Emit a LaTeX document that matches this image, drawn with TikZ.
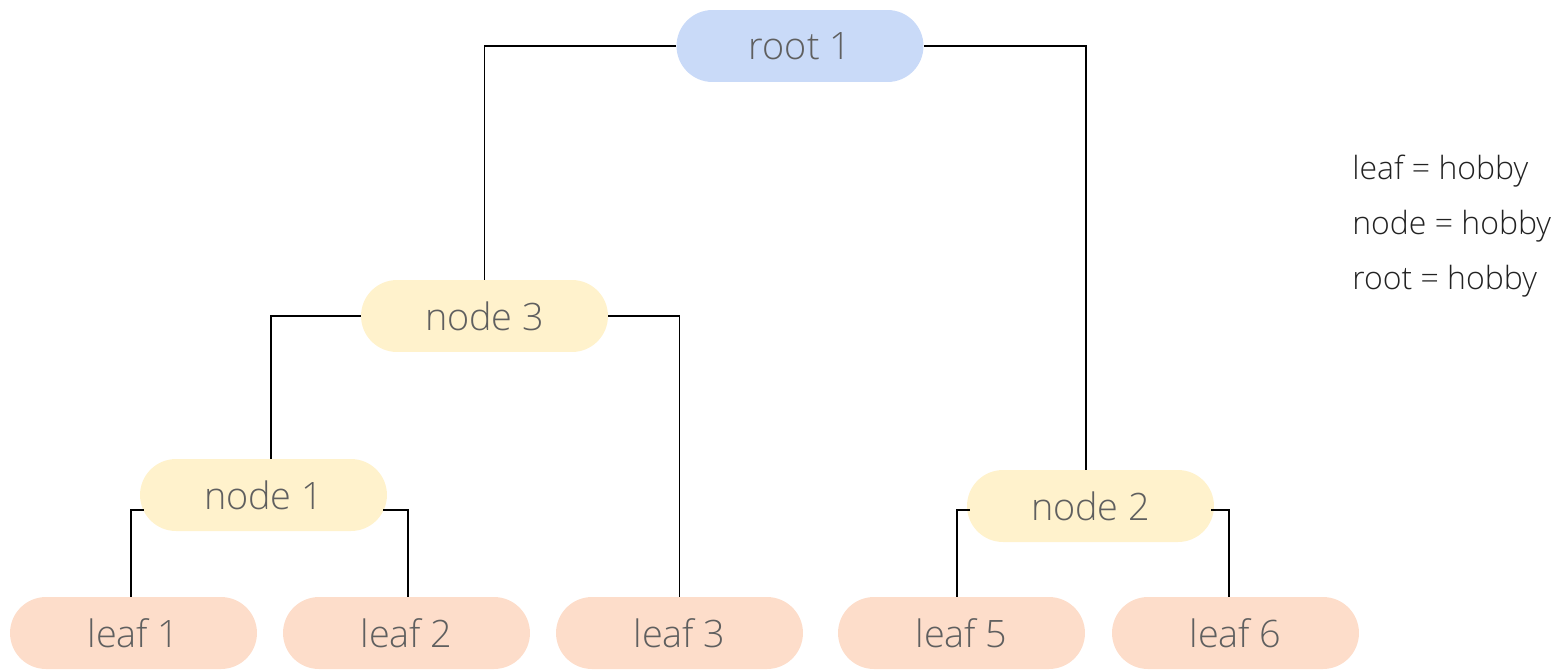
\documentclass[tikz,border=0pt]{standalone}
\usepackage{fontspec}
\IfFontExistsTF{Open Sans Light}{\setmainfont{Open Sans Light}}{\setmainfont{Open Sans}}
\usetikzlibrary{calc}
\definecolor{rootfill}{HTML}{C9DAF8}
\definecolor{midfill}{HTML}{FFF2CC}
\definecolor{leaffill}{HTML}{FDDDCA}
\definecolor{txt}{HTML}{5F5F5F}
\definecolor{legtxt}{HTML}{222222}
\tikzset{
  pill/.style={rectangle, rounded corners=0.72cm, minimum width=4.94cm, minimum height=1.44cm,
    inner sep=0pt, text=txt, font=\fontsize{21.5}{25}\selectfont},
  rootbox/.style={pill, fill=rootfill},
  midbox/.style={pill, fill=midfill},
  leafbox/.style={pill, fill=leaffill},
  link/.style={draw=black, line width=1.1pt},
  legend/.style={anchor=base west, inner sep=0pt, text=legtxt, font=\fontsize{18.2}{21}\selectfont}
}
\begin{document}
\begin{tikzpicture}[x=0.02cm, y=-0.02cm]
\useasboundingbox (0,0) rectangle (1556,670);
\node[rootbox] (root) at (800,46) {root 1};
\node[midbox] (n3) at (484.5,316) {node 3};
\node[midbox] (n1) at (263.5,495) {node 1};
\node[midbox] (n2) at (1090.5,506) {node 2};
\node[leafbox] (l1) at (133.5,633) {leaf 1};
\node[leafbox] (l2) at (406.5,633) {leaf 2};
\node[leafbox] (l3) at (679.5,633) {leaf 3};
\node[leafbox] (l5) at (961.5,633) {leaf 5};
\node[leafbox] (l6) at (1235.5,633) {leaf 6};
\node[legend] (lg1) at (1352,179) {leaf = hobby};
\node[legend] (lg2) at (1352,234) {node = hobby};
\node[legend] (lg3) at (1352,289) {root = hobby};
% connectors
\draw[link] (root.west) -| (n3.north);
\draw[link] (root.east) -| ($(n2.north)+(-4.5,0)$);
\draw[link] (n3.west) -| ($(n1.north)+(7.5,0)$);
\draw[link] (n3.east) -| (l3.north);
\draw[link] ($(n1.west)+(4,15)$) -| ($(l1.north)+(-2.5,0)$);
\draw[link] ($(n1.east)+(-4,15)$) -| ($(l2.north)+(1.5,0)$);
\draw[link] ($(n2.west)+(3,4)$) -| ($(l5.north)+(-4.5,0)$);
\draw[link] ($(n2.east)+(-3,4)$) -| ($(l6.north)+(-6.5,0)$);
\end{tikzpicture}
\end{document}
